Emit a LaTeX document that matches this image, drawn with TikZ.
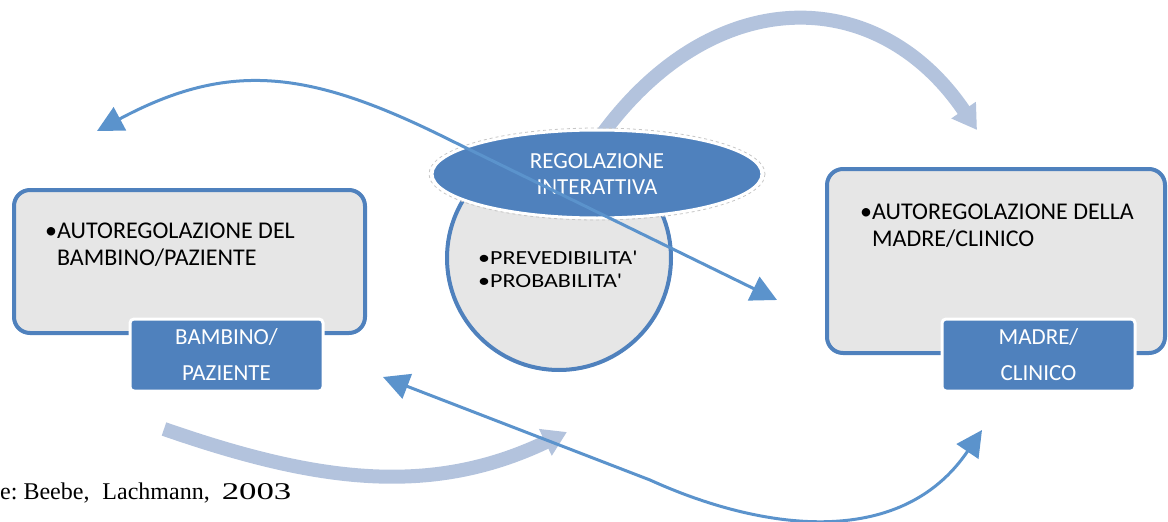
\documentclass[tikz,border=0pt]{standalone}
\usepackage{fontspec}
\setmainfont{Carlito}
\newfontfamily\widefont[FakeStretch=1.2]{Carlito}
\newfontfamily\citefont{Liberation Serif}
\usepackage{tikz}
\usetikzlibrary{arrows.meta,shapes.geometric}
\definecolor{boxblue}{HTML}{4F81BD}
\definecolor{boxgray}{HTML}{E6E6E6}
\definecolor{arrowblue}{HTML}{5B93CC}
\definecolor{bandblue}{HTML}{B3C3DD}

\begin{document}
\begin{tikzpicture}[x=1pt, y=-1pt,
    panel/.style={draw=boxblue, line width=4pt, fill=boxgray, rounded corners=16pt, inner sep=0pt},
    tag/.style={draw=white, line width=3pt, fill=boxblue, rounded corners=4pt, text=white, align=center,
        inner sep=0pt, minimum width=193pt, minimum height=72pt, font=\fontsize{23}{36}\selectfont},
    bullets/.style={anchor=base west, align=left, inner sep=0pt, font=\fontsize{24}{27}\selectfont},
    thinarrow/.style={draw=arrowblue, line width=3pt, {Triangle[length=26pt,width=26pt]}-{Triangle[length=26pt,width=26pt]}},
    bandarrow/.style={draw=bandblue, line width=14pt, -{Triangle[length=24pt,width=28pt]}}]
    \useasboundingbox (0,0) rectangle (1168,522);

    % self-regulation panels
    \node[panel, minimum width=351pt, minimum height=143pt] (bambino) at (189.5,261.5) {};
    \node[panel, minimum width=338pt, minimum height=184pt] (madre) at (996,261) {};
    \node[circle, draw=boxblue, line width=4pt, fill=boxgray, minimum size=224pt, inner sep=0pt] (prob) at (559,258) {};

    % pale arrows
    \coordinate (topstart) at (598,140);
    \coordinate (topend) at (977,130);
    \draw[bandarrow] (topstart) .. controls (710,-18) and (877,-18) .. (topend);

    \node[ellipse, fill=boxblue, draw=white, line width=3pt, minimum width=330pt, minimum height=88pt,
        text=white, align=center, inner sep=0pt, font=\fontsize{23}{26}\selectfont] (regola) at (597,174) {REGOLAZIONE\\INTERATTIVA};
    \draw[gray!45, dashed, line width=0.8pt] (regola.center) ellipse [x radius=168, y radius=46];

    \node[tag] (bambinotag) at (226.5,355) {BAMBINO/\\PAZIENTE};
    \node[tag] (madretag) at (1038.5,355) {MADRE/\\CLINICO};

    % base anchor sits on the last line
    \node[bullets] (bambinotxt) at (45,265) {•AUTOREGOLAZIONE DEL\\\phantom{•}BAMBINO/PAZIENTE};
    \node[bullets] (madretxt) at (860,246) {•AUTOREGOLAZIONE DELLA\\\phantom{•}MADRE/CLINICO};
    \node[bullets, font=\widefont\fontsize{20}{23}\selectfont] (probtxt) at (478,287) {•PREVEDIBILITA'\\•PROBABILITA'};

    \node[anchor=base west, inner sep=0pt, font=\citefont\fontsize{24}{26}\selectfont] (fonte) at (0,499)
        {e:\hspace{6pt}Beebe,\hspace{13pt}Lachmann,\hspace{12pt}{\addfontfeature{FakeStretch=1.45}2003}};

    \coordinate (lowstart) at (164,429);
    \coordinate (lowend) at (567,432);
    \draw[bandarrow] (lowstart) .. controls (314,481) and (429,498) .. (lowend);

    % interaction arrows
    \coordinate (leftend) at (97,131);
    \coordinate (midend) at (777,300);
    \draw[thinarrow] (midend) -- (450,140) .. controls (310,70) and (230,60) .. (leftend);

    \coordinate (lowleft) at (383,377);
    \coordinate (lowright) at (982,430);
    \draw[thinarrow] (lowleft) -- (650,480) .. controls (760,530) and (900,551) .. (lowright);
\end{tikzpicture}
\end{document}
